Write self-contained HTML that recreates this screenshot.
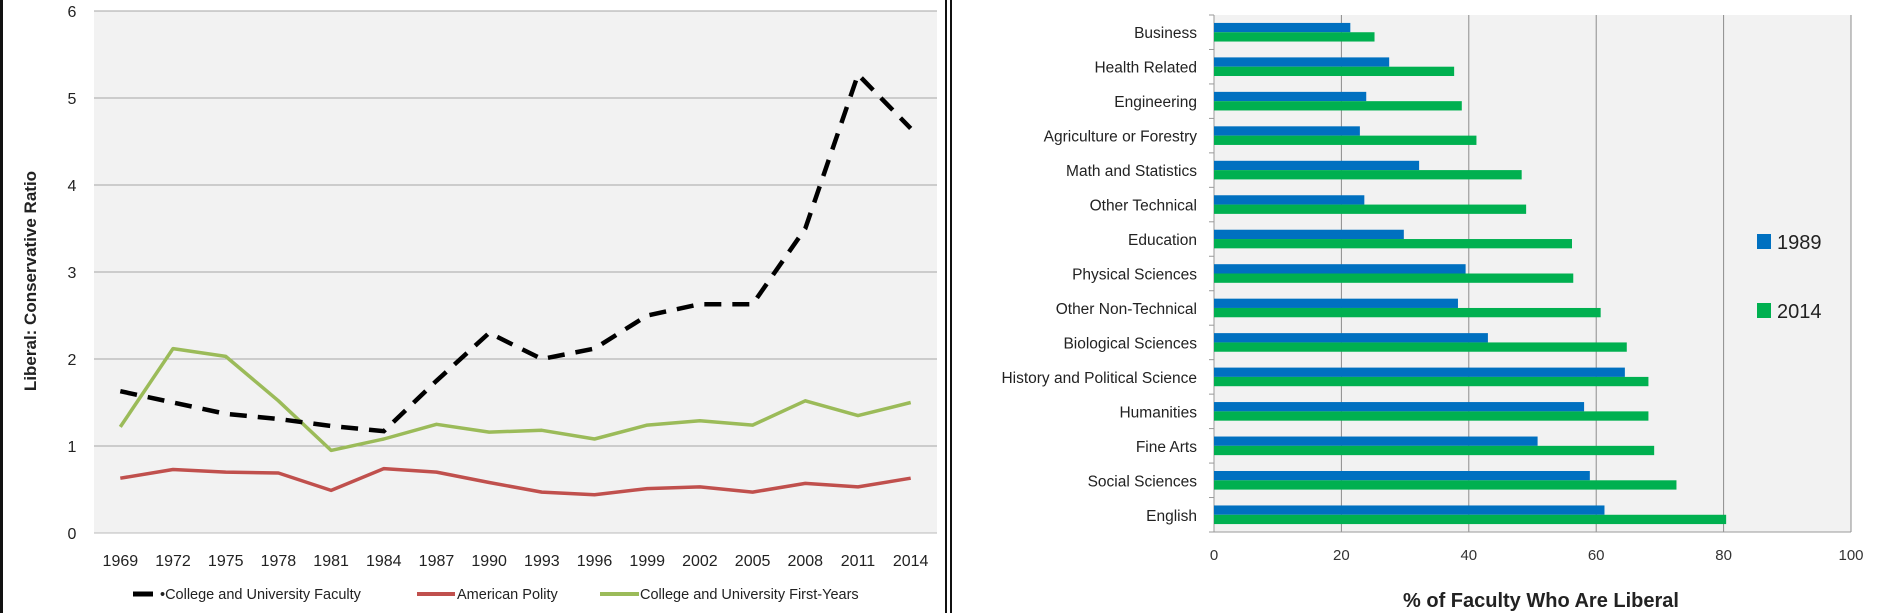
<!DOCTYPE html>
<html><head><meta charset="utf-8"><style>
html,body{margin:0;padding:0;background:#fff;width:1897px;height:613px;overflow:hidden}
svg{display:block;font-family:"Liberation Sans",sans-serif}
</style></head><body>
<svg id="s" width="1897" height="613">
<rect x="0" y="0" width="3" height="613" fill="#111"/>
<rect x="945" y="0" width="2" height="613" fill="#111"/>
<rect x="950" y="0" width="2" height="613" fill="#111"/>
</svg>
<script>
const years=["1969","1972","1975","1978","1981","1984","1987","1990","1993","1996","1999","2002","2005","2008","2011","2014"];
const faculty=[1.63,1.5,1.37,1.31,1.23,1.17,1.75,2.3,2.0,2.12,2.5,2.63,2.63,3.5,5.27,4.65];
const polity=[0.63,0.73,0.70,0.69,0.49,0.74,0.70,0.58,0.47,0.44,0.51,0.53,0.47,0.57,0.53,0.63];
const firstYears=[1.22,2.12,2.03,1.52,0.95,1.08,1.25,1.16,1.18,1.08,1.24,1.29,1.24,1.52,1.35,1.5];
const yTicks=[0,1,2,3,4,5,6];
const fields=["Business","Health Related","Engineering","Agriculture or Forestry","Math and Statistics","Other Technical","Education","Physical Sciences","Other Non-Technical","Biological Sciences","History and Political Science","Humanities","Fine Arts","Social Sciences","English"];
const v1989=[21.4,27.5,23.9,22.9,32.2,23.6,29.8,39.5,38.3,43.0,64.5,58.1,50.8,59.0,61.3];
const v2014=[25.2,37.7,38.9,41.2,48.3,49.0,56.2,56.4,60.7,64.8,68.2,68.2,69.1,72.6,80.4];
const xTicks=[0,20,40,60,80,100];

const s=document.getElementById('s');
const NS='http://www.w3.org/2000/svg';
function mk(t,a,txt){const e=document.createElementNS(NS,t);for(const k in a)e.setAttribute(k,a[k]);if(txt!==undefined)e.textContent=txt;s.appendChild(e);return e;}

// Left chart
const L={x0:94,x1:937,y0:533,y1:11};
const ly=v=>L.y0-(v/6)*(L.y0-L.y1);
const band=(L.x1-L.x0)/years.length;
const lx=i=>L.x0+band*(i+0.5);
let e=mk('rect',{x:L.x0,y:L.y1,width:L.x1-L.x0,height:L.y0-L.y1,fill:'#f2f2f2'});


yTicks.forEach(t=>{
  e=mk('line',{x1:L.x0,x2:L.x1,y1:ly(t),y2:ly(t),stroke:t===0?'#bbb':'#a6a6a6','stroke-width':1});
  
  
  e=mk('text',{x:72,y:ly(t)+6,'text-anchor':'middle','font-size':16,fill:'#222'},String(t));
  
  
});
years.forEach((y,i)=>{
  e=mk('text',{x:lx(i),y:566,'text-anchor':'middle','font-size':16,fill:'#222'},y);
  
  
});
e=mk('text',{x:0,y:0,transform:'translate(36,281) rotate(-90)','text-anchor':'middle','font-size':17,'font-weight':'bold',fill:'#222'},'Liberal: Conservative Ratio');


function pts(arr){return arr.map((v,i)=>lx(i).toFixed(1)+','+ly(v).toFixed(1)).join(' ');}
e=mk('polyline',{points:pts(polity),fill:'none',stroke:'#c0504d','stroke-width':3.5,'stroke-linejoin':'round'});


e=mk('polyline',{points:pts(firstYears),fill:'none',stroke:'#9bbb59','stroke-width':3.5,'stroke-linejoin':'round'});


e=mk('polyline',{points:pts(faculty),fill:'none',stroke:'#000','stroke-width':4.5,'stroke-dasharray':'17,11'});


// legend
e=mk('line',{x1:133,x2:153,y1:594,y2:594,stroke:'#000','stroke-width':5});


e=mk('text',{x:160,y:599,'font-size':14.5,fill:'#222'},'•College and University Faculty');


e=mk('line',{x1:417,x2:455,y1:594,y2:594,stroke:'#c0504d','stroke-width':4});


e=mk('text',{x:457,y:599,'font-size':14.5,fill:'#222'},'American Polity');


e=mk('line',{x1:600,x2:639,y1:594,y2:594,stroke:'#9bbb59','stroke-width':4});


e=mk('text',{x:640,y:599,'font-size':14.5,fill:'#222'},'College and University First-Years');



// Right chart
const R={x0:1214,x1:1851,y0:15,y1:532};
const rx=v=>R.x0+(v/100)*(R.x1-R.x0);
const rb=(R.y1-R.y0)/fields.length;
e=mk('rect',{x:R.x0,y:R.y0,width:R.x1-R.x0,height:R.y1-R.y0,fill:'#f2f2f2'});


xTicks.forEach(t=>{
  if(t>0){e=mk('line',{x1:rx(t),x2:rx(t),y1:R.y0,y2:R.y1,stroke:'#8c8c8c','stroke-width':1});
  
  }
  e=mk('text',{x:rx(t),y:560,'text-anchor':'middle','font-size':15,fill:'#333'},String(t));
  
  
});
e=mk('line',{x1:R.x0,x2:R.x0,y1:R.y0,y2:R.y1,stroke:'#999','stroke-width':1});


e=mk('line',{x1:R.x0-5,x2:R.x1,y1:R.y1,y2:R.y1,stroke:'#999','stroke-width':1});


const bh=rb*0.27;
fields.forEach((f,i)=>{
  const top=R.y0+rb*i;
  e=mk('line',{x1:R.x0-5,x2:R.x0,y1:top,y2:top,stroke:'#999'});
  
  
  const c=top+rb/2;
  e=mk('rect',{x:R.x0,y:c-bh,width:rx(v1989[i])-R.x0,height:bh,fill:'#0070c0'});
  
  
  e=mk('rect',{x:R.x0,y:c,width:rx(v2014[i])-R.x0,height:bh,fill:'#00b050'});
  
  
  e=mk('text',{x:1197,y:c+6,'text-anchor':'end','font-size':15.5,fill:'#222'},f);
  
  
});
e=mk('rect',{x:1757,y:234,width:14,height:15,fill:'#0070c0'});


e=mk('text',{x:1777,y:249,'font-size':20,fill:'#222'},'1989');


e=mk('rect',{x:1757,y:303,width:14,height:15,fill:'#00b050'});


e=mk('text',{x:1777,y:318,'font-size':20,fill:'#222'},'2014');


e=mk('text',{x:1541,y:607,'text-anchor':'middle','font-size':20,'font-weight':'bold',fill:'#222'},'% of Faculty Who Are Liberal');


</script>
</body></html>
